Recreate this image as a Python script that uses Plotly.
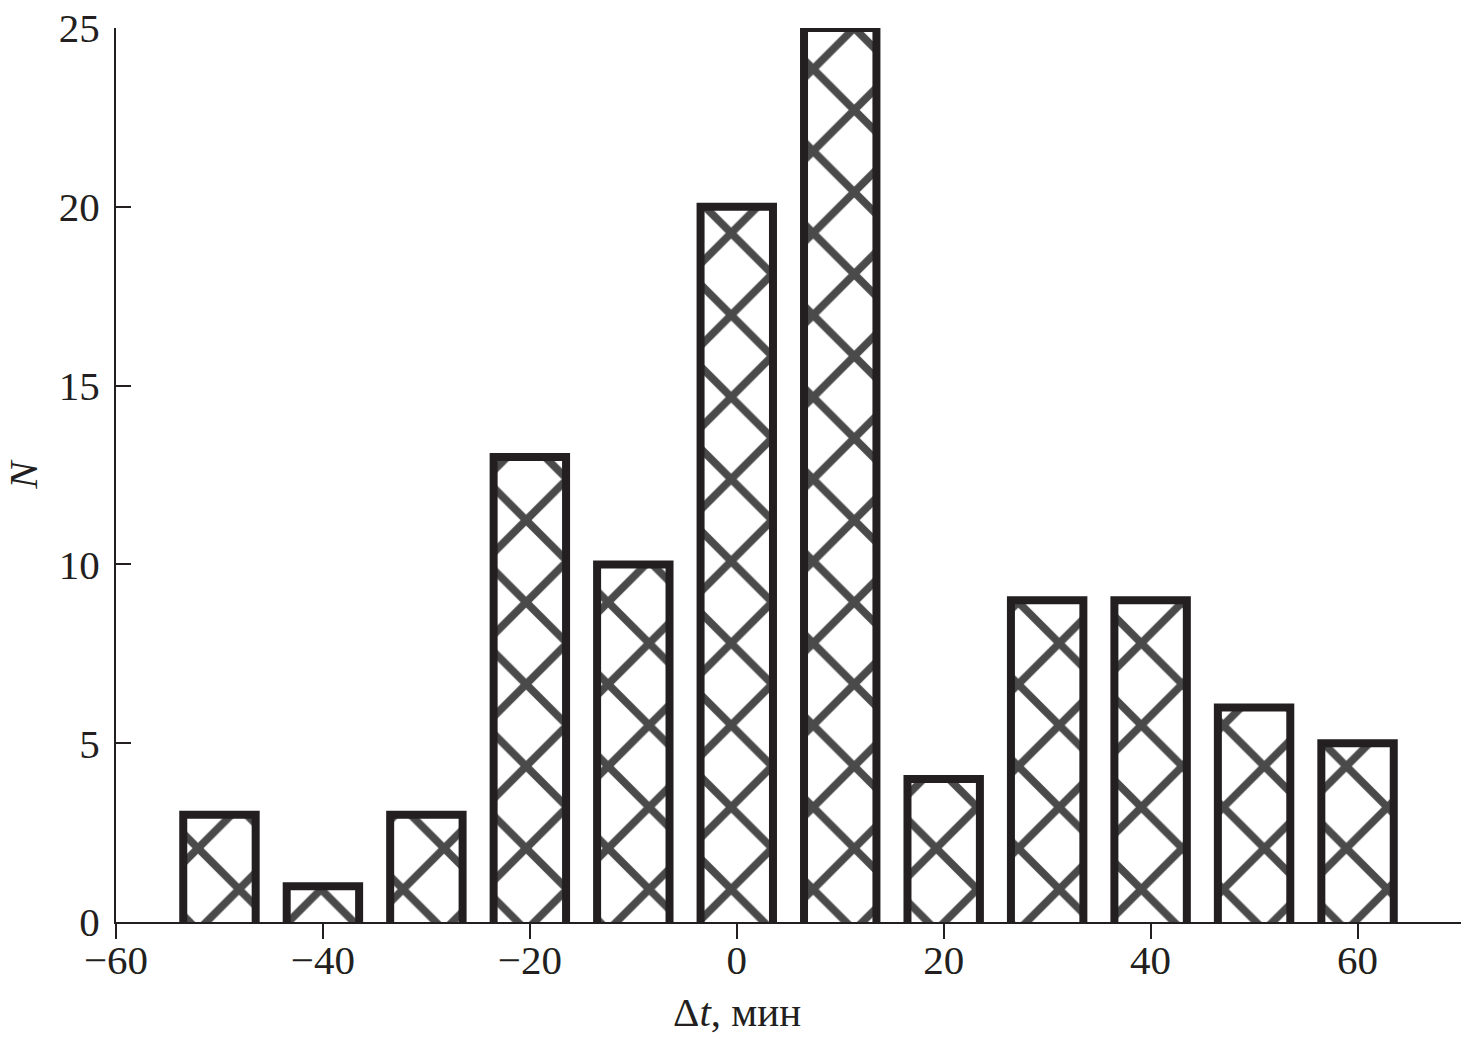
import plotly.graph_objects as go

# Data
dt_centers = [-50, -40, -30, -20, -10, 0, 10, 20, 30, 40, 50, 60]
counts = [3, 1, 3, 13, 10, 20, 25, 4, 9, 9, 6, 5]
x_ticks = [-60, -40, -20, 0, 20, 40, 60]
y_ticks = [0, 5, 10, 15, 20, 25]

ink = "#231f20"
font_family = "Liberation Serif, Times New Roman, serif"

W, H = 1464, 1039
M = dict(l=116, r=3, t=28, b=117)

fig = go.Figure()
fig.add_trace(go.Bar(
    x=dt_centers,
    y=[c + 0.2 for c in counts],
    base=-0.2,
    width=7,
    marker=dict(
        color="white",
        line=dict(color=ink, width=8),
        pattern=dict(shape="x", size=58, solidity=0.25, fgcolor="#4a4a4a",
                     bgcolor="white", fillmode="replace"),
    ),
    cliponaxis=True,
    showlegend=False,
))

fig.update_layout(
    width=W, height=H,
    margin=M,
    paper_bgcolor="white", plot_bgcolor="white",
    font=dict(family=font_family, size=41, color=ink),
    xaxis=dict(
        range=[-60, 70], tickvals=x_ticks, ticks="outside", ticklen=15,
        tickwidth=2, tickcolor=ink, showline=True, linecolor=ink, linewidth=2,
        showgrid=False, zeroline=False, tickfont=dict(size=41), automargin=False,
        ticklabelstandoff=-14, ticklabeloverflow="allow",
    ),
    yaxis=dict(
        range=[0, 25], tickvals=y_ticks, ticks="inside", ticklen=15,
        tickwidth=2, tickcolor=ink, showline=True, linecolor=ink, linewidth=2,
        showgrid=False, zeroline=False, tickfont=dict(size=41), automargin=False,
        ticklabelstandoff=6, ticklabeloverflow="allow",
        title=dict(text="<i>N</i>", font=dict(size=41), standoff=30),
    ),
    annotations=[dict(
        x=0, xref="x", y=0, yref="paper", yanchor="middle",
        text="Δ<i>t</i>, мин", showarrow=False, font=dict(size=41),
    )],
)
plot_h = H - M["t"] - M["b"]
fig.layout.annotations[0].y = -90 / plot_h

fig.write_html("out.html",
               config={"displayModeBar": False},
               post_script="document.body.style.margin='0';document.body.style.padding='0';")
